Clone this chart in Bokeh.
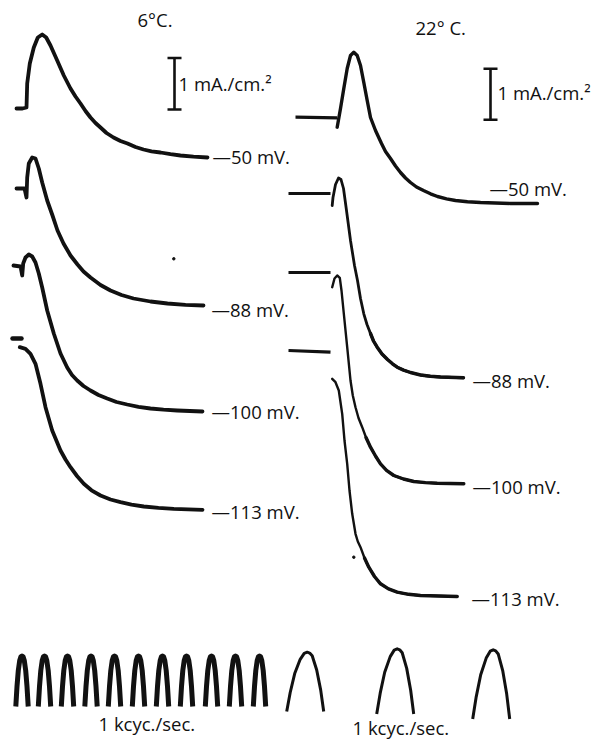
from bokeh.plotting import figure
from bokeh.models import Range1d, ColumnDataSource
from bokeh.core.properties import value
from bokeh.embed import file_html
from bokeh.resources import INLINE

# ---------------- data (page pixel coordinates) ----------------
# 6 deg C traces
c6_50_x = [16, 22, 26, 26.7, 29.3, 33.3, 37.3, 41.7, 45.7, 50, 56.7, 63.3, 70, 75, 80, 85, 90, 95, 100, 106, 113, 120, 127, 135, 143, 151, 160, 170, 180, 193, 207]
c6_50_y = [108, 108, 107, 83, 63, 47, 37, 34, 37, 45, 60, 75, 88, 96, 103, 110.5, 117, 122.5, 127, 132.5, 137, 140.5, 143, 146.5, 149, 150.8, 152, 153.7, 155, 156.2, 157]

c6_88_x = [16, 24, 26, 26.7, 28.3, 31.7, 35, 38.3, 41.7, 46.7, 52, 57, 63, 70, 77, 83, 90, 100, 110, 121, 133, 150, 167, 185, 203]
c6_88_y = [188, 188, 197, 177, 163, 157, 158, 168, 182, 200, 215, 230, 243, 255, 264, 271, 277, 284.5, 290, 294.5, 298, 301, 303, 304.3, 305]

c6_100_x = [13, 20, 21.7, 22.7, 25, 28.3, 31.7, 35, 38.3, 41.7, 46.7, 53.3, 60, 66.7, 71.5, 76.7, 83, 90, 98, 106.7, 116, 126.7, 138, 150, 163, 176.7, 202]
c6_100_y = [265, 266, 275, 263, 257, 254, 256, 262, 273, 287, 310, 333, 353, 367, 374.5, 380, 385.5, 390, 394.5, 398, 401.5, 404, 406.3, 408, 409.2, 410, 411]

c6_113_pre_x = [12, 21]
c6_113_pre_y = [338, 338]
c6_113_x = [19.3, 25, 30, 35, 40, 45, 51.7, 60, 65, 70, 76.5, 83.3, 91, 100, 110, 120, 131, 143.3, 158, 173.3, 202]
c6_113_y = [346.7, 348.3, 353.3, 363.3, 383.3, 406.7, 430, 450, 459, 466.7, 475.5, 483.3, 489.8, 495, 499, 501.7, 504.2, 506, 507.4, 508.3, 509.3]

# 22 deg C traces (holding baselines + tails)
c22_base_x = [[295, 336.7], [288, 330], [288, 330], [288, 330]]
c22_base_y = [[116.7, 117.3], [193, 193], [272, 272], [350, 351.7]]

c22_50_x = [336.7, 340, 343.3, 346.7, 350, 353.3, 356.7, 360, 363.3, 366.7, 370, 375, 381, 385, 390, 395, 400, 405, 410, 416, 423, 430, 437, 446, 455, 467, 480, 510, 537]
c22_50_y = [126.7, 108, 88, 68, 55, 51.7, 55, 65, 82, 100, 117, 130, 143, 151, 158, 165.5, 172, 177.5, 182, 186.5, 190, 193.3, 196, 198.3, 200, 201.2, 202, 203, 203]

c22_88_x = [331.7, 332.5, 335, 338, 340.5, 343, 346, 350, 354, 357, 360, 363.3, 366.5, 370, 373, 376.7, 381.5, 387, 392, 396.7, 403, 410, 420, 430, 440, 463]
c22_88_y = [205, 197, 184, 177.5, 179, 188, 210, 240, 265, 280, 298, 313.3, 324, 333, 340.5, 346.7, 353.5, 359, 363.3, 366.7, 369.6, 372, 374.5, 375.8, 376.5, 377.3]

c22_100_x = [331.7, 334, 336.7, 339.3, 341, 343.3, 346.7, 350, 352.3, 355, 358, 361.7, 365.5, 370, 375, 380, 386, 393.3, 403, 413.3, 425, 436.7, 463.3]
c22_100_y = [286.7, 278, 275, 277.3, 290, 313, 346.7, 380, 395, 406.7, 417.5, 426.7, 437, 446.7, 455.5, 463.3, 469.8, 475, 478.5, 481, 482.1, 482.7, 483.3]

c22_113_x = [331.7, 335, 338.3, 341.7, 344, 346.7, 349, 351.7, 355, 357.3, 360, 364, 368.3, 374, 380, 388, 396.7, 408, 420, 456.7]
c22_113_y = [378.3, 381.7, 390, 413.3, 440, 463.3, 490, 513.3, 533.3, 541, 546.7, 557.5, 566.7, 576, 583.3, 588.4, 591.7, 593.8, 595, 596]

# trace labels (membrane potentials)
labels_6 = ["\u201450 mV.", "\u201488 mV.", "\u2014100 mV.", "\u2014113 mV."]
labels_6_x = [212, 211, 211, 211]
labels_6_y = [156, 309, 411, 511]
labels_22 = ["\u201450 mV.", "\u201488 mV.", "\u2014100 mV.", "\u2014113 mV."]
labels_22_x = [489, 472, 472, 471]
labels_22_y = [188, 380, 486, 598]

titles = ["6\u00b0C.", "22\u00b0 C."]
titles_x = [137, 415]
titles_y = [19, 27]

# calibration bars (1 mA/cm^2)
bar_x = [174, 490]
bar_top = [57.5, 68.3]
bar_bottom = [109, 119.3]
bar_label = ["1 mA./cm.\u00b2", "1 mA./cm.\u00b2"]
bar_label_x = [178, 497]
bar_label_y = [83, 92]

# time marks (1 kcyc./sec.)
narrow_peaks_x = [21.5, 44, 67, 90.5, 114, 138, 162, 186, 211, 235, 259]
narrow_shape_dx = [-6.2, -5, -3.7, -2.3, -1.1, 0, 1.1, 2.3, 3.7, 5, 6.2]
narrow_shape_y = [706, 686, 670, 660, 656.3, 655.5, 656.3, 660, 670, 686, 706]

wide_peaks_x = [306.7, 396.7, 492.7]
wide_peaks_y = [651.7, 648.3, 649.3]
wide_base_y = [711, 713.5, 718.5]
wide_shape_dx = [-20.5, -17, -12.5, -7, -3, 0, 2.5, 5, 9.5, 13.5, 16.5]
wide_shape_frac = [1.0, 0.68, 0.36, 0.12, 0.02, 0.0, 0.015, 0.06, 0.3, 0.64, 1.0]

time_labels = ["1 kcyc./sec.", "1 kcyc./sec."]
time_labels_x = [98, 352]
time_labels_y = [723, 727]

specks_x = [173.3, 353.3]
specks_y = [258.3, 556.7]

# ---------------- figure ----------------
W, H = 598, 742
p = figure(width=W, height=H, x_range=Range1d(0, W), y_range=Range1d(H, 0),
           output_backend="svg", toolbar_location=None, title=None, min_border=0)
p.axis.visible = False
p.grid.visible = False
p.outline_line_color = None
p.background_fill_color = "white"
p.border_fill_color = "white"

ink = "#111111"
FONT = value("Open Sans")
FS = value("18.5px")

# 6 deg C traces
for xs, ys in [(c6_50_x, c6_50_y), (c6_88_x, c6_88_y), (c6_100_x, c6_100_y), (c6_113_x, c6_113_y)]:
    p.line(xs, ys, line_width=3.8, line_color=ink, line_join="round", line_cap="round")
p.line(c6_113_pre_x, c6_113_pre_y, line_width=4.5, line_color=ink, line_cap="round")

# 22 deg C
p.multi_line(c22_base_x, c22_base_y, line_width=3.2, line_color=ink)
for xs, ys, w in [(c22_50_x, c22_50_y, 3.4), (c22_88_x, c22_88_y, 2.8),
                  (c22_100_x, c22_100_y, 2.4), (c22_113_x, c22_113_y, 2.4)]:
    p.line(xs, ys, line_width=w, line_color=ink, line_join="round", line_cap="round")
# thicker tails
for xs, ys, k in [(c22_88_x, c22_88_y, 13), (c22_100_x, c22_100_y, 12), (c22_113_x, c22_113_y, 11)]:
    p.line(xs[k:], ys[k:], line_width=3.4, line_color=ink, line_join="round", line_cap="round")

# calibration bars
p.segment(x0=bar_x, y0=bar_top, x1=bar_x, y1=bar_bottom, line_width=2.6, line_color=ink)
p.segment(x0=[x - 7 for x in bar_x] * 2, y0=bar_top + bar_bottom,
          x1=[x + 7 for x in bar_x] * 2, y1=bar_top + bar_bottom, line_width=2.6, line_color=ink)

# time marks
nx = [[c + d for d in narrow_shape_dx] for c in narrow_peaks_x]
ny = [narrow_shape_y for _ in narrow_peaks_x]
p.multi_line(nx, ny, line_width=5, line_color=ink, line_join="round")
wx = [[c + d for d in wide_shape_dx] for c in wide_peaks_x]
wy = [[t + f * (b - t) for f in wide_shape_frac] for t, b in zip(wide_peaks_y, wide_base_y)]
p.multi_line(wx, wy, line_width=3, line_color=ink, line_join="round")

p.scatter(specks_x, specks_y, size=2.5, color=ink)

# texts
def txt(xs, ys, ts):
    src = ColumnDataSource(dict(x=xs, y=ys, t=ts))
    p.text(x="x", y="y", text="t", source=src, text_font=FONT, text_font_size=FS,
           text_baseline="middle", text_align="left", text_color=ink)

txt(labels_6_x, labels_6_y, labels_6)
txt(labels_22_x, labels_22_y, labels_22)
txt(titles_x, titles_y, titles)
txt(bar_label_x, bar_label_y, bar_label)
txt(time_labels_x, time_labels_y, time_labels)

open("out.html", "w").write(file_html(p, INLINE))
